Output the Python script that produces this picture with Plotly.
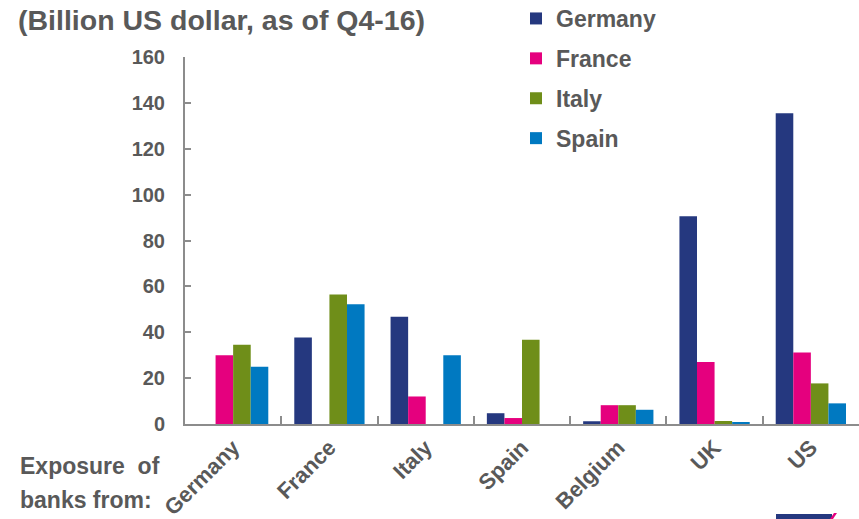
import plotly.graph_objects as go

categories = ["Germany", "France", "Italy", "Spain", "Belgium", "UK", "US"]
series_names = ["Germany", "France", "Italy", "Spain"]
germany = [0, 37.7, 46.8, 4.7, 1.2, 90.6, 135.5]
france = [30.0, 0, 12.0, 2.6, 8.2, 27.0, 31.2]
italy = [34.5, 56.5, 0, 36.7, 8.2, 1.3, 17.7]
spain = [25.0, 52.2, 30.0, 0, 6.2, 0.8, 9.0]
y_ticks = [0, 20, 40, 60, 80, 100, 120, 140, 160]

colors = ["#25387F", "#E5007E", "#6F8E19", "#0079C1"]
values = [germany, france, italy, spain]

FONT = "Liberation Sans"
GRAY = "#595959"
PW, PH = 674, 367  # plot area size in px


def px(xp):
    return (xp - 185) / PW


def py(yp):
    return (424 - yp) / PH


fig = go.Figure()
for i, (name, vals) in enumerate(zip(series_names, values)):
    fig.add_trace(go.Bar(
        x=categories, y=vals, name=name,
        marker=dict(color=colors[i], line=dict(width=0)),
        legendgroup=name,
    ))

fig.update_layout(
    width=859, height=519,
    margin=dict(l=185, r=0, t=57, b=95, autoexpand=False),
    paper_bgcolor="white", plot_bgcolor="white",
    barmode="group", bargap=0.27, bargroupgap=0,
    font=dict(family=FONT, color=GRAY),
    showlegend=True,
    legend=dict(
        x=px(516), y=py(-3), xanchor="left", yanchor="top",
        font=dict(family=FONT, size=23, color=GRAY, weight="bold"),
        tracegroupgap=7, itemwidth=30, bgcolor="rgba(0,0,0,0)",
    ),
    xaxis=dict(
        showline=True, linecolor="#8C8C8C", linewidth=2,
        ticks="inside", ticklen=8, tickcolor="#8C8C8C", tickwidth=2,
        tickson="boundaries", tickangle=-45,
        tickfont=dict(family=FONT, size=22, color=GRAY, weight="bold"),
        showgrid=False, zeroline=False, automargin=False,
    ),
    yaxis=dict(
        range=[0, 160], tickvals=y_ticks,
        showline=True, linecolor="#8C8C8C", linewidth=2,
        ticks="inside", ticklen=6, tickcolor="#8C8C8C", tickwidth=2,
        ticklabelstandoff=14,
        tickfont=dict(family=FONT, size=20, color=GRAY, weight="bold"),
        showgrid=False, zeroline=False, automargin=False,
    ),
    annotations=[
        dict(text="(Billion US dollar, as of Q4-16)", xref="paper", yref="paper",
             x=px(16), y=py(2), xanchor="left", yanchor="top",
             showarrow=False, font=dict(family=FONT, size=28.5, color=GRAY, weight="bold")),
        dict(text="Exposure  of", xref="paper", yref="paper",
             x=px(18), y=py(466), xanchor="left", yanchor="middle",
             showarrow=False, font=dict(family=FONT, size=23, color=GRAY, weight="bold")),
        dict(text="banks from:", xref="paper", yref="paper",
             x=px(18), y=py(500), xanchor="left", yanchor="middle",
             showarrow=False, font=dict(family=FONT, size=23, color=GRAY, weight="bold")),
    ],
    shapes=[
        dict(type="rect", xref="paper", yref="paper",
             x0=px(776), x1=px(832), y0=py(519), y1=py(514),
             fillcolor="#25387F", line=dict(width=0)),
        dict(type="path", xref="paper", yref="paper",
             path=f"M {px(830)},{py(519)} L {px(833)},{py(519)} L {px(837)},{py(513)} L {px(834)},{py(513)} Z",
             fillcolor="#E5007E", line=dict(width=0)),
    ],
)

fig.write_html(
    "out.html",
    config={"displayModeBar": False},
    post_script="document.body.style.margin='0';document.body.style.overflow='hidden';",
)
